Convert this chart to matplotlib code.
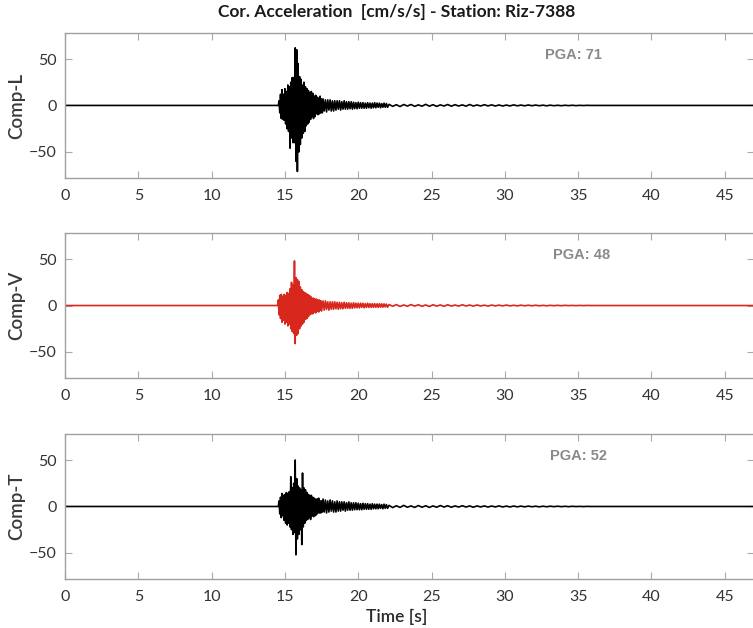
import numpy as np
import matplotlib.pyplot as plt

plt.rcParams['font.family'] = ['Lato', 'DejaVu Sans']

STATION = "Riz-7388"
COMPONENTS = ["Comp-L", "Comp-V", "Comp-T"]
PGA = [71, 48, 52]
COLORS = ["black", "#d8281e", "black"]

# record spans 0..47 s; everything outside the listed segments is quiet (0)
REC_END = 47.2

# strong-motion part: successive peaks, sampled every 0.05 s from onset
STRONG_T0 = [14.60, 14.55, 14.60]
STRONG_DT = 0.05
strong_L = [5, -8, 12, -14, 17, -15, 12, -16,
            18, -20, 15, -25, 22, -28, 20, -46,
            25, -35, 30, -40,
            30, -40, 62, -60, 60, -71, 45, -50,
            31, -42, 28, -35, 22, -30, 25, -28,
            20, -22, 18, -20, 16, -18, 14, -15,
            15, -12, 13, -14, 10, -12, 11, -9,
            9, -10, 8, -9, 10, -8, 7, -8]
strong_V = [6, -10, 11, -14, 12, -18, 10, -16,
            12, -20, 11, -18, 14, -22, 13, -20,
            18, -25, 25, -28,
            22, -30, 48, -41, 30, -32, 28, -30,
            26, -25, 20, -22, 17, -20, 15, -18,
            14, -15, 13, -14, 12, -12, 11, -10,
            10, -9, 8, -9, 8, -7, 7, -8,
            7, -6, 6, -7, 6, -5, 5, -6]
strong_T = [6, -8, 10, -12, 14, -10, 12, -15,
            13, -18, 15, -20, 14, -18, 16, -22,
            32, -25, 20, -30,
            25, -28, 50, -52, 30, -35, 22, -30,
            20, -25, 18, -41, 36, -22, 20, -18,
            18, -15, 15, -14, 13, -12, 12, -14,
            12, -10, 10, -11, 9, -10, 8, -9,
            8, -7, 9, -7, 6, -7, 6, -6]

# coda: peaks every 0.08 s from 17.6 s
CODA_T0, CODA_DT = 17.6, 0.08
coda_L = [7, -6, 6, -7, 6, -5, 6, -6, 5, -6,
          5, -5, 5, -4, 5, -5, 4, -4, 5, -4,
          4, -4, 4, -3.5, 4, -4, 3.5, -3.5, 3, -3.5,
          3.5, -3, 3, -3, 3, -3, 2.5, -3, 3, -2.5,
          2.5, -3, 2.5, -2.5, 3, -2.5, 2.5, -2, 2.5, -2.5,
          2, -2, 2.5, -2, 2, -2]
coda_V = [5, -5, 5, -4, 4, -5, 4, -4, 4, -4,
          4, -3.5, 3.5, -4, 3.5, -3.5, 3, -3.5, 3.5, -3,
          3, -3, 3, -3, 2.5, -3, 3, -2.5, 2.5, -2.5,
          2.5, -2.5, 2.5, -2, 2.5, -2.5, 2, -2, 2.5, -2,
          2, -2, 2, -2, 2, -1.8, 1.8, -2, 2, -1.8,
          1.8, -1.8, 1.8, -1.5, 1.5, -1.8]
coda_T = [8, -6, 7, -7, 6, -6, 7, -5, 6, -6,
          5, -6, 6, -5, 5, -5, 5, -4, 5, -5,
          4, -4, 5, -4, 4, -4, 4, -3.5, 4, -3.5,
          3.5, -3.5, 3, -3.5, 3.5, -3, 3, -3, 3, -3,
          2.5, -3, 3, -2.5, 2.5, -2.5, 2.5, -2.5, 2.5, -2,
          2, -2.5, 2.5, -2, 2, -2]

# long tail: peaks every 0.25 s from 22.1 s
TAIL_T0, TAIL_DT = 22.1, 0.25
tail_L = [1.2, -1, 0.8, -1.2, 1, -0.6, 1, -1, 0.6, -0.8,
          1.2, -0.8, 0.8, -1, 0.6, -0.6, 1, -0.8, 0.8, -0.6,
          0.6, -0.8, 1, -0.6, 0.5, -0.6, 0.8, -0.5, 0.6, -0.6,
          0.5, -0.6, 0.4, -0.5, 0.6, -0.4, 0.4, -0.4, 0.5, -0.3,
          0.4, -0.3, 0.3, -0.4, 0.3, -0.3, 0.2, -0.3, 0.2, -0.2,
          0.2, -0.2, 0.1, -0.1, 0.1]
tail_V = [1, -0.8, 1, -1, 0.6, -0.8, 1, -0.6, 0.8, -0.8,
          0.6, -1, 0.8, -0.6, 0.6, -0.8, 0.8, -0.6, 0.5, -0.6,
          0.8, -0.5, 0.5, -0.6, 0.6, -0.5, 0.4, -0.6, 0.5, -0.4,
          0.4, -0.4, 0.5, -0.4, 0.3, -0.4, 0.4, -0.3, 0.3, -0.3,
          0.3, -0.3, 0.2, -0.3, 0.2, -0.2, 0.2, -0.2, 0.2, -0.1,
          0.1, -0.1, 0.1, -0.1, 0.1]
tail_T = [1.2, -1.2, 0.8, -1, 1.2, -0.8, 0.6, -1, 1, -0.8,
          0.8, -1, 0.6, -0.8, 1, -0.6, 0.8, -0.8, 0.6, -0.6,
          0.8, -0.6, 0.6, -0.8, 0.6, -0.5, 0.6, -0.6, 0.5, -0.5,
          0.6, -0.5, 0.4, -0.5, 0.5, -0.4, 0.4, -0.4, 0.4, -0.3,
          0.3, -0.4, 0.3, -0.3, 0.3, -0.2, 0.3, -0.2, 0.2, -0.2,
          0.2, -0.1, 0.1, -0.1, 0.1]

STRONG = [strong_L, strong_V, strong_T]
CODA = [coda_L, coda_V, coda_T]
TAIL = [tail_L, tail_V, tail_T]

YLIM = 1.1 * max(PGA)
PGA_X = [34.7, 35.2, 35.0]


def build_trace(t0, strong, coda, tail):
    """stitch the three peak sequences into one time series"""
    segs = [(t0, STRONG_DT, strong), (CODA_T0, CODA_DT, coda), (TAIL_T0, TAIL_DT, tail)]
    t = [0.0, t0 - STRONG_DT]
    a = [0.0, 0.0]
    for start, dt, vals in segs:
        vals = np.asarray(vals, dtype=float)
        t.extend(start + dt * np.arange(len(vals)))
        a.extend(vals)
    t.extend([t[-1] + TAIL_DT, REC_END])
    a.extend([0.0, 0.0])
    return np.array(t), np.array(a)


fig = plt.figure(figsize=(7.53, 6.28), dpi=100)
bottoms = [0.7166, 0.398, 0.078]
height = 0.231
for i in range(3):
    ax = fig.add_axes([0.0863, bottoms[i], 0.9152, height])
    t, a = build_trace(STRONG_T0[i], STRONG[i], CODA[i], TAIL[i])
    ax.plot(t, a, color=COLORS[i], lw=1.2)
    ax.set_xlim(0, 47.0)
    ax.set_ylim(-YLIM, YLIM)
    ax.set_xticks(np.arange(0, 50, 5))
    ax.set_yticks([-50, 0, 50])
    ax.tick_params(direction='in', length=5, width=0.8, color='#aaaaaa',
                   labelcolor='#333333', labelsize=11.5, top=True, right=True)
    ax.tick_params(axis='x', pad=8)
    ax.tick_params(axis='y', pad=6)
    for side, sp in ax.spines.items():
        sp.set_color('#a0a0a0')
        sp.set_linewidth(1.0)
    ax.spines['right'].set_visible(False)
    ax.set_ylabel(COMPONENTS[i], fontsize=13.5, color='#3a3a3a',
                  fontweight='semibold')
    ax.yaxis.set_label_coords(-0.058, 0.5)
    ax.text(PGA_X[i], 54.5, f"PGA: {PGA[i]}", ha='center', va='center',
            fontsize=10.5, fontweight='bold', color='#8a8a8a',
            family=['Liberation Sans', 'DejaVu Sans'])

fig.text(397 / 753, 1 - 12 / 628, f"Cor. Acceleration  [cm/s/s] - Station: {STATION}",
         ha='center', va='center', fontsize=12.5, fontweight='bold', color='#1a1a1a')
fig.text(397 / 753, 1 - 617 / 628, "Time [s]", ha='center', va='center',
         fontsize=12.5, fontweight='semibold', color='#2a2a2a')

fig.savefig("out.png", dpi=100)
